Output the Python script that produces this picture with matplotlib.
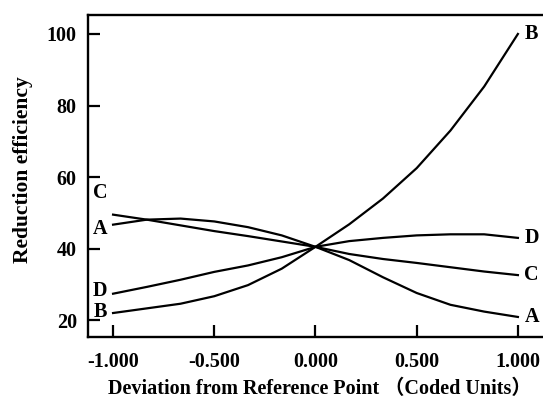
"""
Perturbation plot of reduction efficiency
"""

import matplotlib
matplotlib.use('Agg')
import matplotlib.pyplot as plt

# deviation from reference point (coded units)
x = [-1.0, -5 / 6, -2 / 3, -0.5, -1 / 3, -1 / 6, 0.0, 1 / 6, 1 / 3, 0.5, 2 / 3, 5 / 6, 1.0]

# reduction efficiency for each factor
eff_a = [46.7, 48.1, 48.4, 47.6, 46.0, 43.7, 40.5, 36.8, 32.0, 27.6, 24.3, 22.4, 20.9]
eff_b = [22.0, 23.3, 24.6, 26.7, 29.8, 34.4, 40.5, 46.8, 54.0, 62.5, 73.0, 85.3, 100.0]
eff_c = [49.5, 48.1, 46.5, 44.9, 43.5, 42.0, 40.5, 38.5, 37.1, 36.0, 34.8, 33.6, 32.6]
eff_d = [27.4, 29.3, 31.3, 33.5, 35.3, 37.6, 40.5, 42.1, 43.0, 43.7, 44.0, 44.0, 43.0]

factors = ['A', 'B', 'C', 'D']
series = [eff_a, eff_b, eff_c, eff_d]

# where the end letters sit on the left (the curves start too close together)
left_label_y = [45.4, 22.2, 55.5, 28.2]

x_ticks = [-1.0, -0.5, 0.0, 0.5, 1.0]
x_tick_labels = ['-1.000', '-0.500', '0.000', '0.500', '1.000']
y_ticks = [20, 40, 60, 80, 100]

fonts = ['Liberation Serif', 'Noto Sans CJK SC']

# new figure for plot
fig = plt.figure(figsize=(5.43, 3.99), dpi=100)
ax = fig.add_axes([0.162, 0.1554, 0.838, 0.807])

# plot each factor curve and put its letter at both ends
for name, vals, ly in zip(factors, series, left_label_y):
    ax.plot(x, vals, color='black', linewidth=1.6, solid_joinstyle='round')
    ax.text(-1.064, ly, name, ha='center', va='center',
            fontsize=14.5, fontweight='bold', family=fonts)
    ax.text(1.068, vals[-1], name, ha='center', va='center',
            fontsize=14.5, fontweight='bold', family=fonts)

ax.set_xlim(-1.124, 1.124)
ax.set_ylim(15.3, 105.3)

ax.set_xticks(x_ticks)
ax.set_xticklabels(x_tick_labels)
ax.set_yticks(y_ticks)
ax.tick_params(direction='in', length=8.5, width=1.6, labelsize=14.5)
ax.tick_params(axis='y', pad=8)
ax.tick_params(axis='x', pad=11)
for lab in ax.get_xticklabels() + ax.get_yticklabels():
    lab.set_family(fonts)
    lab.set_fontweight('bold')

for side in ['left', 'bottom', 'top']:
    ax.spines[side].set_linewidth(1.7)
ax.spines['right'].set_visible(False)

# set plot labels
ax.set_xlabel('Deviation from Reference Point （Coded Units）',
              fontsize=14.5, fontweight='bold', family=fonts)
ax.set_ylabel('Reduction efficiency', fontsize=15.5, fontweight='bold', family=fonts)
ax.xaxis.label.set_verticalalignment('center')
ax.yaxis.label.set_verticalalignment('center')
ax.xaxis.set_label_coords(0.51, -0.163)
ax.yaxis.set_label_coords(-0.143, 0.519)

plt.savefig('out.png', dpi=100)
plt.close()
